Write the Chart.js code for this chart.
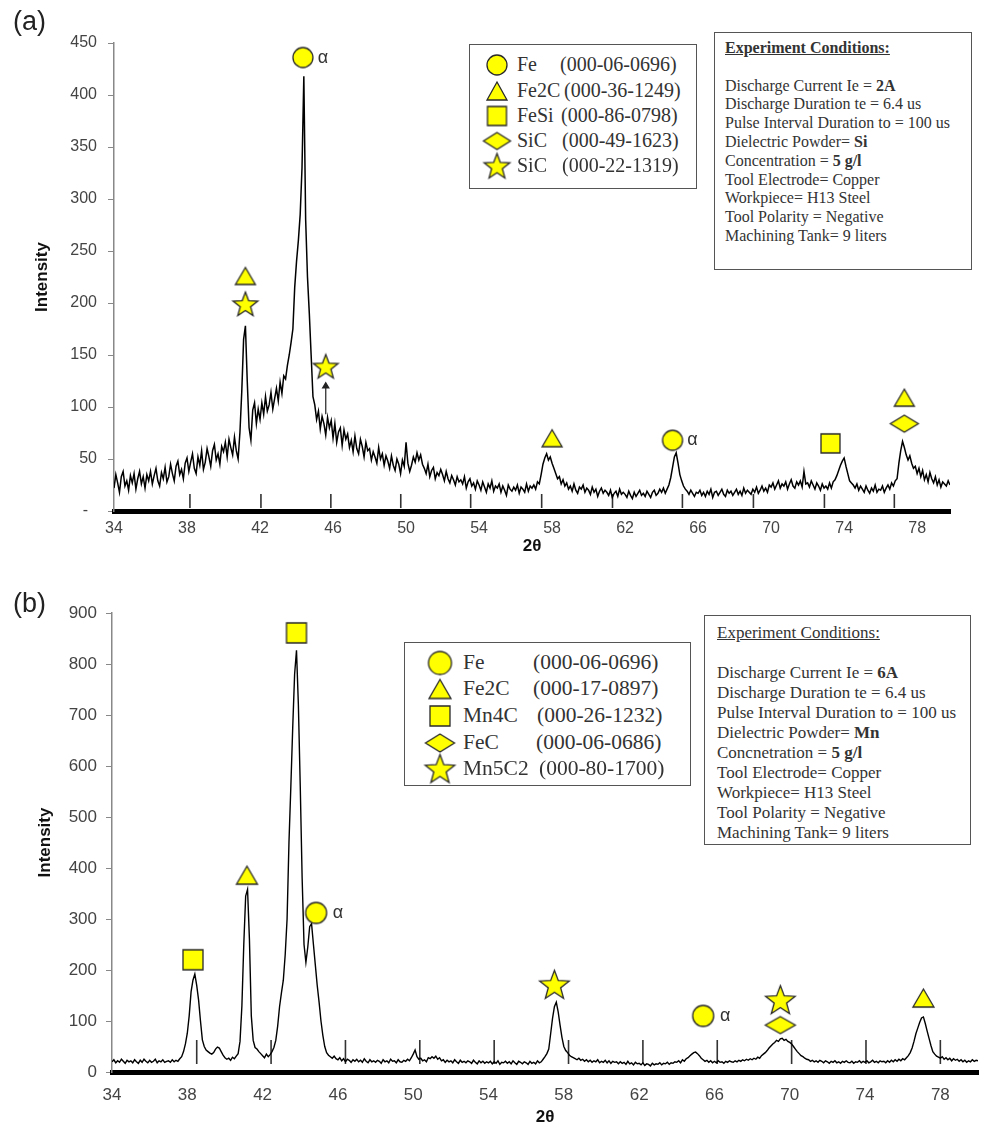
<!DOCTYPE html>
<html>
<head>
<meta charset="utf-8">
<script src="https://cdn.jsdelivr.net/npm/chart.js@4.4.1/dist/chart.umd.min.js"></script>
<style>
  body { margin: 0; background: #fff; }
  #page { position: relative; width: 989px; height: 1128px; overflow: hidden; font-family: "Liberation Sans", Arial, sans-serif; }
  canvas.chart { position: absolute; left: 0; }
  .panel { position: absolute; left: 13px; font-size: 27px; line-height: 1; color: #222; }
  .box { position: absolute; box-sizing: border-box; border: 1.5px solid #555; background: #fff; font-family: "Liberation Serif", "DejaVu Serif", serif; color: #333; }
  .box .ic { position: absolute; transform: translate(-50%, -50%); }
  .box .tx { position: absolute; white-space: nowrap; }
  .cond { white-space: nowrap; }
</style>
</head>
<body>
<div id="page">
  <canvas id="chartA" class="chart" width="989" height="560" style="top:0"></canvas>
  <canvas id="chartB" class="chart" width="989" height="568" style="top:560px"></canvas>
  <div class="panel" style="top:8px">(a)</div>
  <div class="panel" style="top:590px">(b)</div>
  <div id="legendA" class="box" style="left:469px;top:44px;width:228px;height:145px;font-size:20px"></div>
  <div id="legendB" class="box" style="left:404px;top:642px;width:287px;height:144px;font-size:21.5px"></div>
  <div class="box cond" style="left:714px;top:32px;width:258px;height:238px;font-size:16px;line-height:18.8px;padding:6px 0 0 10px">
    <b><u>Experiment Conditions:</u></b><br><br>
    Discharge Current Ie = <b>2A</b><br>
    Discharge Duration te = 6.4 us<br>
    Pulse Interval Duration to = 100 us<br>
    Dielectric Powder= <b>Si</b><br>
    Concentration = <b>5 g/l</b><br>
    Tool Electrode= Copper<br>
    Workpiece= H13 Steel<br>
    Tool Polarity = Negative<br>
    Machining Tank= 9 liters
  </div>
  <div class="box cond" style="left:704px;top:615px;width:267px;height:230px;font-size:17px;line-height:20px;padding:7px 0 0 12px">
    <u>Experiment Conditions:</u><br><br>
    Discharge Current Ie = <b>6A</b><br>
    Discharge Duration te = 6.4 us<br>
    Pulse Interval Duration to = 100 us<br>
    Dielectric Powder= <b>Mn</b><br>
    Concnetration = <b>5 g/l</b><br>
    Tool Electrode= Copper<br>
    Workpiece= H13 Steel<br>
    Tool Polarity = Negative<br>
    Machining Tank= 9 liters
  </div>
</div>
<script>
// ---- panel (a): Si powder, 2 A ----
const startA = 34, stepA = 0.1;
const intensityA = [
  22,35,27,18,33,38,24,29,20,34,
  27,36,21,31,38,26,33,22,35,29,
  38,26,34,41,29,24,37,31,42,28,
  33,45,36,29,43,48,35,40,31,46,
  51,38,47,55,41,36,52,44,58,40,
  47,60,52,43,58,64,49,55,45,62,
  57,66,52,69,61,54,71,58,50,76,
  115,165,178,125,80,68,97,104,84,98,
  88,104,93,110,96,102,114,98,108,118,
  106,124,113,130,127,140,150,162,175,215,
  240,260,285,330,418,280,225,190,150,110,
  102,88,96,79,91,84,73,90,80,87,
  70,84,66,76,80,63,78,69,74,61,
  68,57,72,60,55,69,62,52,66,58,
  60,49,57,52,46,61,50,55,44,53,
  48,41,53,44,39,50,45,36,49,43,
  66,46,38,44,52,47,56,49,54,45,
  41,36,45,33,39,42,31,37,34,40,
  35,29,38,31,27,34,30,25,33,28,
  30,26,33,22,28,31,24,27,21,29,
  25,20,28,23,18,26,22,29,19,24,
  22,26,18,24,20,15,25,21,19,23,
  20,25,17,23,21,18,26,19,24,22,
  25,21,28,26,35,45,51,55,49,52,
  46,41,36,31,33,26,30,24,27,21,
  24,19,26,20,17,23,21,25,18,22,
  20,16,23,18,21,14,19,22,17,20,
  18,15,20,13,17,19,14,21,16,18,
  16,13,19,15,12,18,14,17,20,15,
  17,14,19,16,13,18,20,15,17,21,
  18,22,17,21,25,32,42,52,56,46,
  35,29,24,21,19,16,20,17,14,18,
  17,20,15,18,14,19,16,21,13,18,
  19,15,18,21,16,14,20,17,19,15,
  18,21,16,19,15,22,17,20,18,16,
  21,18,23,17,20,24,19,22,18,25,
  23,27,21,25,29,22,26,24,28,21,
  26,30,24,22,28,25,29,23,38,26,
  27,23,29,25,21,27,24,20,26,22,
  24,21,27,22,28,30,34,39,44,48,
  51,43,36,29,27,25,22,26,20,24,
  21,18,24,20,17,22,19,25,18,21,
  20,24,18,22,25,21,27,24,29,31,
  46,58,67,61,54,49,53,46,41,43,
  36,41,33,39,30,35,28,37,31,27,
  33,25,30,23,28,26,24,29,25
];
const xTicksA = [34, 38, 42, 46, 50, 54, 58, 62, 66, 70, 74, 78];
const yTicksA = [0, 50, 100, 150, 200, 250, 300, 350, 400, 450];
const yLabelsA = ['-  ', '50', '100', '150', '200', '250', '300', '350', '400', '450'];
const axisMarksA = [38.16, 42.05, 45.88, 49.71, 53.54, 57.43, 61.31, 65.14, 69.03, 72.92, 76.75];
const circlesA = [{x: 44.35, y: 436}, {x: 64.6, y: 68}];
const trianglesA = [{x: 41.2, y: 226}, {x: 58.0, y: 70}, {x: 77.3, y: 109}];
const squaresA = [{x: 73.25, y: 65}];
const diamondsA = [{x: 77.3, y: 84}];
const starsA = [{x: 41.2, y: 199}, {x: 45.6, y: 139}];
const arrowA = [{x: 45.6, y: 93}, {x: 45.6, y: 120}];
const legendNamesA = ['Fe', 'Fe2C', 'FeSi', 'SiC', 'SiC'];
const legendCodesA = ['(000-06-0696)', '(000-36-1249)', '(000-86-0798)', '(000-49-1623)', '(000-22-1319)'];

// ---- panel (b): Mn powder, 6 A ----
const startB = 34, stepB = 0.1;
const intensityB = [
  20,24,18,22,19,25,21,17,23,20,
  22,18,24,20,17,23,19,25,21,18,
  23,19,21,25,18,22,20,24,19,21,
  22,19,24,20,23,21,26,30,40,55,
  76,110,157,180,192,170,141,100,63,50,
  43,40,37,35,38,45,49,47,40,33,
  28,25,27,23,29,26,31,36,60,130,
  250,345,358,260,110,62,48,45,40,36,
  32,28,35,30,34,40,48,62,90,128,
  155,180,230,300,450,560,676,780,827,720,
  560,380,250,215,245,285,291,250,210,170,
  137,100,72,50,38,33,30,27,31,26,
  24,28,22,26,20,25,23,19,24,21,
  25,20,23,19,26,21,18,24,20,22,
  19,23,21,17,24,20,22,18,25,21,
  22,18,24,20,19,23,21,25,22,28,
  35,43,30,25,27,22,24,20,28,26,
  30,27,31,25,28,22,24,19,23,20,
  22,18,24,20,17,23,19,21,18,22,
  20,17,23,19,16,22,18,21,17,20,
  18,21,16,20,17,22,15,19,18,21,
  17,20,16,22,18,15,21,19,16,20,
  18,15,21,17,19,16,22,18,20,25,
  30,36,45,75,105,128,137,118,92,68,
  50,42,38,33,30,28,26,24,27,23,
  25,21,24,20,23,19,22,20,24,18,
  21,19,23,18,22,17,21,19,20,16,
  20,17,19,15,21,16,18,14,19,16,
  17,14,18,13,16,15,12,17,14,16,
  15,18,14,17,16,19,15,18,17,20,
  19,22,18,24,21,26,28,32,35,38,
  39,36,32,27,24,21,23,19,22,18,
  21,18,22,19,20,17,21,19,22,20,
  19,22,20,23,21,24,22,25,23,26,
  24,27,25,29,27,32,35,38,42,47,
  51,55,58,62,60,65,66,62,64,60,
  58,55,50,45,40,36,32,30,27,25,
  24,21,23,20,22,19,23,21,18,22,
  20,17,21,19,22,18,20,17,21,19,
  22,19,18,21,17,20,19,22,18,21,
  19,22,18,20,23,19,21,18,22,20,
  21,18,22,19,23,20,24,21,25,22,
  26,24,28,32,38,47,60,75,86,97,
  106,108,95,80,66,52,40,35,31,29,
  27,30,25,28,24,27,22,26,23,25,
  21,24,20,23,19,22,20,24,21,23,
  22
];
const xTicksB = [34, 38, 42, 46, 50, 54, 58, 62, 66, 70, 74, 78];
const yTicksB = [0, 100, 200, 300, 400, 500, 600, 700, 800, 900];
const axisMarksB = [38.5, 42.45, 46.4, 50.35, 54.3, 58.25, 62.2, 66.15, 70.1, 74.05, 78.0];
const circlesB = [{x: 44.84, y: 312}, {x: 65.4, y: 110}];
const trianglesB = [{x: 41.17, y: 386}, {x: 77.1, y: 145}];
const squaresB = [{x: 38.3, y: 220}, {x: 43.8, y: 861}];
const diamondsB = [{x: 69.5, y: 92}];
const starsB = [{x: 57.5, y: 171}, {x: 69.5, y: 141}];
const legendNamesB = ['Fe', 'Fe2C', 'Mn4C', 'FeC', 'Mn5C2'];
const legendCodesB = ['(000-06-0696)', '(000-17-0897)', '(000-26-1232)', '(000-06-0686)', '(000-80-1700)'];

const legendShapes = ['circle', 'triangle', 'square', 'diamond', 'star'];

const YELLOW = '#ffff00';
const EDGE = '#2a2a2a';
Chart.defaults.font.family = "'Liberation Sans', Arial, sans-serif";

// draws one yellow symbol into a small canvas (used as point style and in the legends)
function makeShape(kind, w, h) {
  const c = document.createElement('canvas');
  c.width = w + 4; c.height = h + 4;
  const g = c.getContext('2d');
  const cx = c.width / 2, cy = c.height / 2;
  g.fillStyle = YELLOW; g.strokeStyle = EDGE; g.lineWidth = 1.3; g.lineJoin = 'miter';
  g.beginPath();
  if (kind === 'circle') {
    g.arc(cx, cy, w / 2, 0, Math.PI * 2);
  } else if (kind === 'triangle') {
    g.moveTo(cx, cy - h / 2); g.lineTo(cx + w / 2, cy + h / 2); g.lineTo(cx - w / 2, cy + h / 2); g.closePath();
  } else if (kind === 'square') {
    g.rect(cx - w / 2, cy - h / 2, w, h);
  } else if (kind === 'diamond') {
    g.moveTo(cx, cy - h / 2); g.lineTo(cx + w / 2, cy); g.lineTo(cx, cy + h / 2); g.lineTo(cx - w / 2, cy); g.closePath();
  } else if (kind === 'star') {
    const ro = w / 2, ri = w / 2 * 0.42;
    for (let k = 0; k < 10; k++) {
      const r = k % 2 ? ri : ro;
      const a = -Math.PI / 2 + k * Math.PI / 5;
      const px = cx + r * Math.cos(a), py = cy + 1 + r * Math.sin(a);
      if (k === 0) g.moveTo(px, py); else g.lineTo(px, py);
    }
    g.closePath();
  }
  g.fill(); g.stroke();
  return c;
}

const sizesChartA = {circle: [20, 20], triangle: [20, 17], square: [19, 19], diamond: [28, 17], star: [26, 26]};
const sizesLegendA = {circle: [20, 20], triangle: [20, 18], square: [19, 19], diamond: [27, 17], star: [27, 27]};
const sizesChartB = {circle: [21, 21], triangle: [21, 18], square: [20, 20], diamond: [30, 17], star: [31, 30]};
const sizesLegendB = {circle: [23, 23], triangle: [22, 19], square: [20, 20], diamond: [29, 18], star: [31, 29]};

function buildLegend(id, names, codes, sizes, lay) {
  const box = document.getElementById(id);
  names.forEach((name, i) => {
    const yc = lay.rows[i];
    const s = sizes[legendShapes[i]];
    const ic = makeShape(legendShapes[i], s[0], s[1]);
    ic.className = 'ic';
    ic.style.left = lay.icon + 'px'; ic.style.top = yc + 'px';
    box.appendChild(ic);
    const n = document.createElement('div');
    n.className = 'tx'; n.textContent = name;
    n.style.left = lay.name + 'px'; n.style.top = (yc - lay.half) + 'px';
    box.appendChild(n);
    const c = document.createElement('div');
    c.className = 'tx'; c.textContent = codes[i];
    c.style.left = lay.code[i] + 'px'; c.style.top = (yc - lay.half) + 'px';
    box.appendChild(c);
  });
}
buildLegend('legendA', legendNamesA, legendCodesA, sizesLegendA,
  {rows: [20, 46, 71, 96, 121], icon: 27, name: 47, code: [90, 94, 91, 92, 92], half: 12});
buildLegend('legendB', legendNamesB, legendCodesB, sizesLegendB,
  {rows: [20, 46, 73, 100, 126], icon: 35, name: 58, code: [128, 128, 132, 131, 134], half: 13});

function toPoints(start, step, vals) {
  return vals.map((v, i) => ({x: +(start + i * step).toFixed(2), y: v}));
}

function markerSet(points, kind, sizes) {
  const s = sizes[kind];
  return {type: 'scatter', data: points, pointStyle: makeShape(kind, s[0], s[1]),
    pointRadius: 10, showLine: false, order: 0, clip: false};
}

// axis tick strokes of the pattern and the alpha labels next to Fe circles
const xrdExtras = {
  id: 'xrdExtras',
  beforeDatasetsDraw(chart, args, opts) {
    const {ctx, chartArea, scales: {x}} = chart;
    ctx.save();
    ctx.strokeStyle = '#333'; ctx.lineWidth = 1.6;
    opts.marks.forEach(v => {
      const px = x.getPixelForValue(v);
      ctx.beginPath();
      ctx.moveTo(px, chartArea.bottom - opts.markFrom);
      ctx.lineTo(px, chartArea.bottom - opts.markTo);
      ctx.stroke();
    });
    ctx.restore();
  },
  afterDatasetsDraw(chart, args, opts) {
    const {ctx, scales: {x, y}} = chart;
    ctx.save();
    ctx.fillStyle = '#333'; ctx.font = "18px 'Liberation Sans', Arial, sans-serif";
    ctx.textAlign = 'center'; ctx.textBaseline = 'middle';
    opts.alpha.forEach(p => ctx.fillText('α', x.getPixelForValue(p.x) + opts.alphaDx, y.getPixelForValue(p.y)));
    ctx.restore();
  }
};

function makeChart(id, cfg) {
  return new Chart(document.getElementById(id), {
    type: 'scatter',
    data: {datasets: cfg.datasets},
    plugins: [xrdExtras],
    options: {
      responsive: false, animation: false, events: [],
      layout: {padding: cfg.padding},
      plugins: {
        legend: {display: false}, tooltip: {enabled: false},
        xrdExtras: cfg.extras
      },
      scales: {
        x: {
          type: 'linear', min: cfg.xMin, max: cfg.xMax,
          afterBuildTicks: s => { s.ticks = cfg.xTicks.map(v => ({value: v})); },
          afterFit: s => { s.height = cfg.xHeight; },
          grid: {display: false, drawTicks: false},
          border: {display: true, color: '#000', width: 5},
          ticks: {color: '#444', font: {size: cfg.fontSize}, padding: cfg.xPad, maxRotation: 0, autoSkip: false},
          title: {display: true, text: '2θ', color: '#111', font: {size: 17, weight: 'bold'}, padding: {top: 0, bottom: cfg.xTitlePad}}
        },
        y: {
          min: 0, max: cfg.yMax,
          afterBuildTicks: s => { s.ticks = cfg.yTicks.map(v => ({value: v})); },
          afterFit: s => { s.width = cfg.yWidth; },
          grid: {display: true, drawOnChartArea: false, drawTicks: true, tickLength: 6, color: '#888'},
          border: {display: true, color: '#888', width: 1.5},
          ticks: {color: '#444', font: {size: cfg.fontSize}, padding: cfg.yPad, callback: cfg.yLabel},
          title: {display: true, text: 'Intensity', color: '#111', font: {size: 17, weight: 'bold'}}
        }
      }
    }
  });
}

makeChart('chartA', {
  datasets: [
    {data: toPoints(startA, stepA, intensityA), showLine: true, borderColor: '#000', borderWidth: 1.5,
      pointRadius: 0, order: 2},
    {data: arrowA, showLine: true, borderColor: '#333', borderWidth: 1.3, pointStyle: 'triangle',
      pointRadius: [0, 3.5], pointBackgroundColor: '#222', pointBorderColor: '#222', order: 1},
    markerSet(circlesA, 'circle', sizesChartA),
    markerSet(trianglesA, 'triangle', sizesChartA),
    markerSet(squaresA, 'square', sizesChartA),
    markerSet(diamondsA, 'diamond', sizesChartA),
    markerSet(starsA, 'star', sizesChartA)
  ],
  padding: {left: 28, top: 43, right: 39, bottom: 0},
  xMin: 34, xMax: 79.8, xTicks: xTicksA, xHeight: 49, xPad: 8, xTitlePad: 3,
  yMax: 450, yTicks: yTicksA, yWidth: 86, yPad: 11, fontSize: 16,
  yLabel: (v, i) => yLabelsA[i],
  extras: {marks: axisMarksA, markFrom: 3, markTo: 17, alpha: circlesA, alphaDx: 20}
});

makeChart('chartB', {
  datasets: [
    {data: toPoints(startB, stepB, intensityB), showLine: true, borderColor: '#000', borderWidth: 1.4,
      pointRadius: 0, order: 2},
    markerSet(circlesB, 'circle', sizesChartB),
    markerSet(trianglesB, 'triangle', sizesChartB),
    markerSet(squaresB, 'square', sizesChartB),
    markerSet(diamondsB, 'diamond', sizesChartB),
    markerSet(starsB, 'star', sizesChartB)
  ],
  padding: {left: 31, top: 53, right: 3, bottom: 0},
  xMin: 34, xMax: 80, xTicks: xTicksB, xHeight: 56, xPad: 13, xTitlePad: 0,
  yMax: 900, yTicks: yTicksB, yWidth: 81, yPad: 9, fontSize: 17,
  yLabel: v => String(v),
  extras: {marks: axisMarksB, markFrom: 8, markTo: 32, alpha: circlesB, alphaDx: 22}
});
</script>
</body>
</html>
